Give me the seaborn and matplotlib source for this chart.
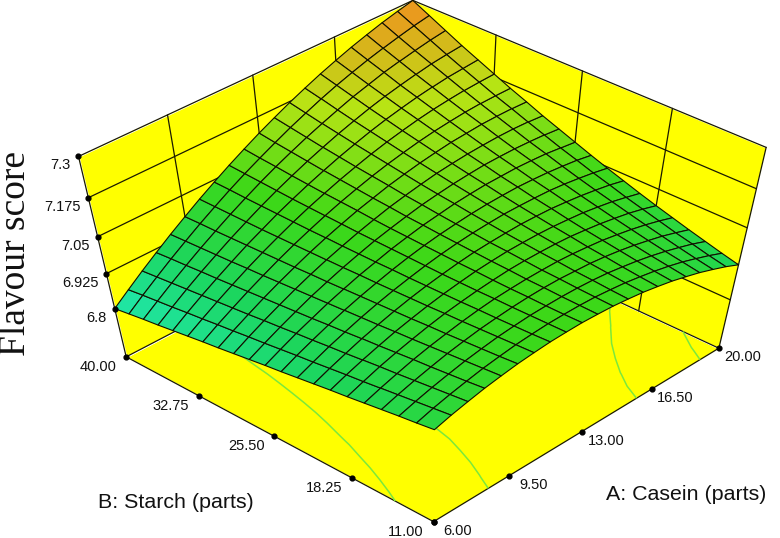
import numpy as np
import matplotlib
matplotlib.use("Agg")
import matplotlib.pyplot as plt
import seaborn as sns
from mpl_toolkits.mplot3d import proj3d

# ------------------------------
# Data
# ------------------------------
casein = [6, 6.7, 7.4, 8.1, 8.8, 9.5, 10.2, 10.9, 11.6, 12.3, 13, 13.7, 14.4, 15.1, 15.8, 16.5, 17.2, 17.9, 18.6, 19.3, 20]
starch = [11, 12.45, 13.9, 15.35, 16.8, 18.25, 19.7, 21.15, 22.6, 24.05, 25.5, 26.95, 28.4, 29.85, 31.3, 32.75, 34.2, 35.65, 37.1, 38.55, 40]
flavour = [
    [6.975, 6.992, 7.006, 7.019, 7.029, 7.038, 7.044, 7.049, 7.051, 7.052, 7.050, 7.047, 7.041, 7.034, 7.024, 7.013, 6.999, 6.984, 6.966, 6.947, 6.925],
    [6.966, 6.984, 6.999, 7.012, 7.024, 7.033, 7.041, 7.046, 7.050, 7.051, 7.051, 7.049, 7.044, 7.038, 7.029, 7.019, 7.007, 6.993, 6.976, 6.958, 6.938],
    [6.958, 6.976, 6.992, 7.006, 7.019, 7.029, 7.038, 7.044, 7.049, 7.051, 7.052, 7.051, 7.048, 7.043, 7.035, 7.026, 7.015, 7.002, 6.987, 6.971, 6.952],
    [6.949, 6.968, 6.985, 7.000, 7.014, 7.025, 7.035, 7.042, 7.048, 7.052, 7.054, 7.054, 7.051, 7.048, 7.042, 7.034, 7.024, 7.012, 6.999, 6.983, 6.966],
    [6.940, 6.960, 6.978, 6.995, 7.009, 7.021, 7.032, 7.041, 7.048, 7.052, 7.055, 7.056, 7.056, 7.053, 7.048, 7.042, 7.033, 7.023, 7.011, 6.997, 6.981],
    [6.931, 6.952, 6.972, 6.989, 7.004, 7.018, 7.030, 7.039, 7.047, 7.053, 7.058, 7.060, 7.060, 7.059, 7.056, 7.050, 7.043, 7.034, 7.024, 7.011, 6.996],
    [6.923, 6.945, 6.965, 6.983, 7.000, 7.014, 7.027, 7.038, 7.047, 7.055, 7.060, 7.064, 7.065, 7.065, 7.063, 7.059, 7.054, 7.046, 7.037, 7.025, 7.012],
    [6.914, 6.937, 6.958, 6.978, 6.995, 7.011, 7.025, 7.037, 7.047, 7.056, 7.063, 7.067, 7.070, 7.072, 7.071, 7.069, 7.064, 7.058, 7.050, 7.041, 7.029],
    [6.905, 6.929, 6.952, 6.972, 6.991, 7.008, 7.023, 7.036, 7.048, 7.058, 7.066, 7.072, 7.076, 7.079, 7.079, 7.078, 7.076, 7.071, 7.064, 7.056, 7.046],
    [6.896, 6.922, 6.945, 6.967, 6.987, 7.005, 7.021, 7.036, 7.049, 7.060, 7.069, 7.076, 7.082, 7.086, 7.088, 7.089, 7.087, 7.084, 7.079, 7.073, 7.064],
    [6.888, 6.914, 6.939, 6.961, 6.983, 7.002, 7.020, 7.035, 7.050, 7.062, 7.073, 7.081, 7.089, 7.094, 7.098, 7.099, 7.100, 7.098, 7.095, 7.089, 7.083],
    [6.879, 6.906, 6.932, 6.956, 6.979, 6.999, 7.018, 7.035, 7.051, 7.064, 7.076, 7.087, 7.095, 7.102, 7.107, 7.111, 7.112, 7.112, 7.110, 7.107, 7.102],
    [6.870, 6.899, 6.926, 6.951, 6.975, 6.997, 7.017, 7.035, 7.052, 7.067, 7.081, 7.092, 7.102, 7.111, 7.117, 7.122, 7.125, 7.127, 7.127, 7.125, 7.121],
    [6.861, 6.891, 6.919, 6.946, 6.971, 6.994, 7.016, 7.036, 7.054, 7.071, 7.085, 7.099, 7.110, 7.120, 7.128, 7.135, 7.139, 7.143, 7.144, 7.144, 7.142],
    [6.853, 6.884, 6.913, 6.941, 6.967, 6.992, 7.015, 7.036, 7.056, 7.074, 7.090, 7.105, 7.118, 7.129, 7.139, 7.147, 7.153, 7.158, 7.161, 7.162, 7.162],
    [6.844, 6.876, 6.907, 6.936, 6.964, 6.990, 7.014, 7.037, 7.058, 7.077, 7.095, 7.111, 7.126, 7.139, 7.150, 7.160, 7.168, 7.174, 7.179, 7.182, 7.184],
    [6.835, 6.869, 6.901, 6.931, 6.960, 6.988, 7.013, 7.038, 7.060, 7.081, 7.100, 7.118, 7.134, 7.149, 7.162, 7.173, 7.183, 7.191, 7.198, 7.202, 7.206],
    [6.826, 6.861, 6.895, 6.927, 6.957, 6.986, 7.013, 7.039, 7.063, 7.085, 7.106, 7.125, 7.143, 7.159, 7.174, 7.187, 7.198, 7.208, 7.217, 7.223, 7.228],
    [6.818, 6.854, 6.889, 6.922, 6.954, 6.984, 7.013, 7.040, 7.066, 7.090, 7.112, 7.133, 7.152, 7.170, 7.187, 7.201, 7.215, 7.226, 7.236, 7.245, 7.252],
    [6.809, 6.847, 6.883, 6.918, 6.951, 6.983, 7.013, 7.042, 7.069, 7.094, 7.118, 7.141, 7.162, 7.182, 7.200, 7.216, 7.231, 7.244, 7.256, 7.267, 7.276],
    [6.800, 6.839, 6.877, 6.913, 6.948, 6.981, 7.013, 7.043, 7.072, 7.099, 7.125, 7.149, 7.172, 7.193, 7.213, 7.231, 7.248, 7.263, 7.277, 7.289, 7.300],
]
casein_ticks = [6.00, 9.50, 13.00, 16.50, 20.00]
starch_ticks = [11.00, 18.25, 25.50, 32.75, 40.00]
flavour_ticks = [6.8, 6.925, 7.05, 7.175, 7.3]
flavour_labels = ["6.8", "6.925", "7.05", "7.175", "7.3"]
contour_levels = [6.955, 7.025]

# ------------------------------
# Figure and camera
# ------------------------------
sns.set_theme(style="white")
plt.rcParams["font.family"] = ["Liberation Sans", "DejaVu Sans"]

floor_z = 6.616

fig = plt.figure(figsize=(7.8, 5.38), dpi=100)
ax = fig.add_subplot(projection="3d", computed_zorder=False)
ax.set_axis_off()
# the reference is squeezed vertically, so the axes box must not be forced square
ax.apply_aspect = lambda position=None: None
ax.set_position([-241.6 / 780, -155.1 / 538, 1294.5 / 780, 844.1 / 538])
ax.set_xlim(6, 20)
ax.set_ylim(11, 40)
ax.set_zlim(floor_z, 7.3)
ax.view_init(50.82, -136.72)
ax.set_proj_type("persp", focal_length=0.3615)
ax.set_box_aspect((1, 1.005, 1.078), zoom=0.6)

# ------------------------------
# Walls, floor and grid
# ------------------------------
yellow = "#FFFF00"
x0, x1 = casein_ticks[0], casein_ticks[-1]
y0, y1 = starch_ticks[0], starch_ticks[-1]
z1 = flavour_ticks[-1]

fx, fy = np.meshgrid([x0, x1], [y0, y1])
ax.plot_surface(fx, fy, np.full_like(fx, floor_z, dtype=float), color=yellow, shade=False, zorder=1)
wx, wz = np.meshgrid([x0, x1], [floor_z, z1])
ax.plot_surface(wx, np.full_like(wx, y1, dtype=float), wz, color=yellow, shade=False, zorder=1)
wy, wz = np.meshgrid([y0, y1], [floor_z, z1])
ax.plot_surface(np.full_like(wy, x1, dtype=float), wy, wz, color=yellow, shade=False, zorder=1)

line = dict(color="#1a1a00", lw=0.9, zorder=2)
for z in [floor_z] + flavour_ticks:
    ax.plot([x0, x1], [y1, y1], [z, z], **line)
    ax.plot([x1, x1], [y0, y1], [z, z], **line)
for x in casein_ticks:
    ax.plot([x, x], [y1, y1], [floor_z, z1], **line)
for y in starch_ticks:
    ax.plot([x1, x1], [y, y], [floor_z, z1], **line)
ax.plot([x0, x1], [y0, y0], [floor_z, floor_z], **line)
ax.plot([x0, x0], [y0, y1], [floor_z, floor_z], **line)

# ------------------------------
# Surface and floor contours
# ------------------------------
X, Y = np.meshgrid(casein, starch)
Z = np.array(flavour)
ax.contour(X, Y, Z, levels=contour_levels, zdir="z", offset=floor_z, colors="#7CE83C", linewidths=1.1, zorder=3)

surface_cmap = sns.blend_palette(["#20E8B0", "#1CD65E", "#3CD818", "#B8E414", "#F09020"], as_cmap=True)
ax.plot_surface(X, Y, Z, cmap=surface_cmap, vmin=6.8, vmax=7.3, rstride=1, cstride=1,
                edgecolor="#101000", linewidth=0.8, shade=False, antialiased=True, zorder=5)

# ------------------------------
# Tick dots and labels
# ------------------------------
ax.scatter(casein_ticks, [y0] * 5, [floor_z] * 5, color="black", s=12, zorder=6, depthshade=False)
ax.scatter([x0] * 5, starch_ticks, [floor_z] * 5, color="black", s=12, zorder=6, depthshade=False)
ax.scatter([x0] * 5, [y1] * 5, flavour_ticks, color="black", s=12, zorder=6, depthshade=False)

M = ax.get_proj()


def tick_label(text, x, y, z, dx, dy, ha):
    tx, ty, _ = proj3d.proj_transform(x, y, z, M)
    ax.annotate(text, (tx, ty), xytext=(dx, dy), textcoords="offset pixels", ha=ha, va="center",
                fontsize=10.5, color="#111111", annotation_clip=False)


for v in casein_ticks:
    tick_label("%.2f" % v, v, y0, floor_z, 24, -9, "center")
for v in starch_ticks:
    tick_label("%.2f" % v, x0, v, floor_z, -28, -10, "center")
for v, s in zip(flavour_ticks, flavour_labels):
    tick_label(s, x0, y1, v, -8, -9, "right")

fig.text(686 / 780, 1 - 494 / 538, "A: Casein (parts)", ha="center", va="center", fontsize=15.4, color="#111111")
fig.text(176 / 780, 1 - 503 / 538, "B: Starch (parts)", ha="center", va="center", fontsize=15.4, color="#111111")
fig.text(16 / 780, 1 - 253 / 538, "Flavour score", rotation=90, ha="center", va="center", fontsize=27,
         family=["Liberation Serif", "DejaVu Serif"], color="#111111")

ax.set_xlim(6, 20)
ax.set_ylim(11, 40)
ax.set_zlim(floor_z, 7.3)

fig.savefig("out.png", dpi=100)
